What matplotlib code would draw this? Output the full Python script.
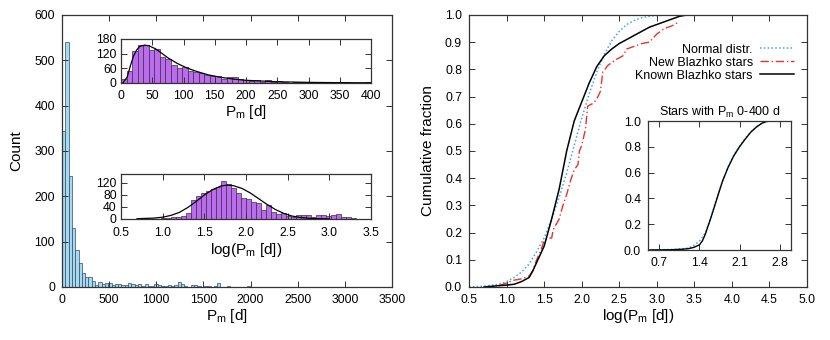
import numpy as np
import matplotlib
matplotlib.use("Agg")
import matplotlib.pyplot as plt

plt.rcParams['font.family'] = ['Liberation Sans', 'DejaVu Sans']
plt.rcParams['mathtext.fontset'] = 'custom'
plt.rcParams['mathtext.rm'] = 'Liberation Sans'
plt.rcParams['mathtext.it'] = 'Liberation Sans'

# --- data ---
# main histogram of P_m, bins of 35 d from 0 to 3500
pm_bin_width = 35
pm_counts = [345, 540, 245, 130, 82, 53, 30, 22, 21, 14,
             4, 12, 6, 8, 8, 5, 7, 6, 4, 5,
             8, 6, 4, 7, 3, 6, 2, 3, 7, 4,
             3, 3, 5, 2, 4, 11, 6, 2, 1, 4,
             5, 2, 1, 2, 3, 1, 2, 9, 0, 0,
             2, 1, 0, 1, 0, 0, 2, 1, 0, 0,
             1, 0, 0, 0, 0, 0, 0, 0, 0, 0,
             0, 0, 0, 0, 0, 0, 0, 0, 0, 0,
             0, 0, 0, 0, 0, 0, 0, 0, 0, 0,
             0, 0, 0, 0, 1, 0, 0, 0, 0, 0]

# inset: P_m 0-400 d
short_counts = [18, 50, 130, 155, 155, 135, 138, 108, 97, 74,
                60, 64, 49, 46, 42, 31, 29, 29, 15, 23,
                23, 16, 12, 10, 12, 5, 11, 4, 10, 4,
                2, 4, 4, 2, 5, 4, 5, 2, 2, 1,
                3, 2, 1, 2, 5]
short_fit_x = [3, 10, 15, 20, 25, 30, 38, 45, 55, 65, 75, 90, 105, 120,
               140, 160, 180, 200, 250, 300, 350, 400]
short_fit_y = [0, 25, 70, 110, 135, 150, 155, 152, 140, 122, 103, 80, 62, 48,
               33, 23, 16, 11, 5, 2.5, 1.3, 0.8]

# inset: log P_m, bins of 0.06 from 0.5 to 3.5
log_bin_width = 0.06
log_counts = [0, 0, 0, 3, 2, 0, 1, 1, 2, 3,
              5, 8, 10, 20, 62, 75, 88, 92, 100, 107,
              125, 115, 103, 85, 70, 68, 55, 52, 30, 47,
              22, 18, 20, 10, 8, 14, 12, 12, 8, 14,
              12, 10, 12, 16, 8, 8, 2, 0, 0, 0]
log_fit_x = [0.7, 0.9, 1.0, 1.1, 1.2, 1.3, 1.4, 1.5, 1.6, 1.7, 1.78, 1.85,
             1.95, 2.05, 2.15, 2.25, 2.35, 2.45, 2.55, 2.65, 2.8, 3.0]
log_fit_y = [1, 3, 6, 12, 22, 38, 58, 80, 98, 110, 113, 111,
             102, 87, 68, 49, 32, 19, 10, 5, 1.5, 0.3]

# cumulative distributions
normal_x = [0.5, 0.7, 0.9, 1.0, 1.1, 1.2, 1.3, 1.4, 1.5, 1.6, 1.7, 1.8, 1.9,
            2.0, 2.1, 2.2, 2.3, 2.4, 2.5, 2.6, 2.7, 2.8, 2.9, 3.0, 3.2, 3.5, 3.7]
normal_y = [0.0, 0.003, 0.01, 0.02, 0.035, 0.055, 0.085, 0.13, 0.18, 0.25, 0.33,
            0.42, 0.52, 0.62, 0.71, 0.79, 0.855, 0.905, 0.94, 0.965, 0.98, 0.99,
            0.995, 0.998, 1.0, 1.0, 1.0]
new_x = [0.9, 1.0, 1.1, 1.2, 1.3, 1.35, 1.4, 1.45, 1.5, 1.55, 1.6, 1.62, 1.7,
         1.75, 1.8, 1.85, 1.9, 1.95, 1.97, 2.0, 2.05, 2.08, 2.15, 2.2, 2.25,
         2.28, 2.35, 2.45, 2.55, 2.6, 2.7, 2.8, 2.9, 3.0, 3.1, 3.2, 3.3]
new_y = [0.005, 0.015, 0.025, 0.03, 0.04, 0.06, 0.1, 0.13, 0.17, 0.18, 0.18,
         0.21, 0.25, 0.3, 0.34, 0.39, 0.43, 0.45, 0.5, 0.52, 0.58, 0.665, 0.675,
         0.69, 0.72, 0.79, 0.815, 0.835, 0.85, 0.875, 0.885, 0.895, 0.9, 0.93,
         0.95, 0.96, 0.975]
known_x = [0.7, 0.9, 1.0, 1.1, 1.2, 1.3, 1.35, 1.4, 1.5, 1.6, 1.7, 1.8, 1.9,
           2.0, 2.1, 2.2, 2.3, 2.4, 2.5, 2.6, 2.7, 2.8, 2.9, 3.0, 3.1, 3.2,
           3.3, 3.4, 3.5]
known_y = [0.0, 0.005, 0.007, 0.01, 0.02, 0.035, 0.06, 0.09, 0.15, 0.25, 0.36,
           0.5, 0.61, 0.68, 0.75, 0.81, 0.85, 0.875, 0.895, 0.91, 0.925, 0.94,
           0.955, 0.965, 0.975, 0.985, 0.995, 1.0, 1.0]

# inset: stars with P_m 0-400 d
sub_known_x = [0.5, 0.9, 1.1, 1.2, 1.3, 1.35, 1.4, 1.45, 1.5, 1.6, 1.7, 1.8,
               1.9, 2.0, 2.1, 2.2, 2.3, 2.4, 2.5, 2.6, 2.7]
sub_known_y = [0.0, 0.002, 0.006, 0.01, 0.02, 0.03, 0.04, 0.07, 0.12, 0.25,
               0.39, 0.53, 0.64, 0.73, 0.80, 0.86, 0.915, 0.955, 0.985, 1.0, 1.0]
sub_normal_x = [0.5, 1.0, 1.2, 1.3, 1.4, 1.5, 1.6, 1.7, 1.8, 1.9, 2.0, 2.1,
                2.2, 2.3, 2.4, 2.5, 2.6, 2.7]
sub_normal_y = [0.0, 0.005, 0.015, 0.035, 0.07, 0.13, 0.25, 0.40, 0.53, 0.645,
                0.735, 0.805, 0.865, 0.915, 0.955, 0.985, 0.998, 1.0]

# --- styling helpers ---
tick_fs = 8.8
label_fs = 11
spine_col = '#333333'


def style(ax):
    ax.tick_params(direction='in', top=True, right=True, length=4,
                   width=0.7, labelsize=tick_fs, color=spine_col)
    ax.tick_params(axis='x', pad=5)
    ax.tick_params(axis='y', pad=5)
    for s in ax.spines.values():
        s.set_color(spine_col)
        s.set_linewidth(0.9)


fig = plt.figure(figsize=(8.3, 3.4), dpi=100)

# left main histogram
ax1 = fig.add_axes([0.0747, 0.1559, 0.3976, 0.80])
edges = np.arange(len(pm_counts)) * pm_bin_width
ax1.bar(edges, pm_counts, width=pm_bin_width, align='edge',
        color='#a8d8f0', edgecolor='#2d4e6a', linewidth=0.5)
ax1.set_xlim(0, 3500)
ax1.set_ylim(0, 600)
ax1.set_xticks(np.arange(0, 3501, 500))
ax1.set_yticks(np.arange(0, 601, 100))
ax1.set_xlabel(r'P$_\mathrm{m}$ [d]', fontsize=label_fs, labelpad=1)
ax1.set_ylabel('Count', fontsize=label_fs, labelpad=8)
style(ax1)

# top inset
ax2 = fig.add_axes([0.1458, 0.7559, 0.3012, 0.1294])
edges2 = np.arange(len(short_counts)) * (400 / len(short_counts))
ax2.bar(edges2, short_counts, width=400 / len(short_counts), align='edge',
        color='#bb6cec', edgecolor='#3d2a4a', linewidth=0.5)
ax2.plot(short_fit_x, short_fit_y, color='black', lw=0.9)
ax2.set_xlim(0, 400)
ax2.set_ylim(0, 180)
ax2.set_xticks(np.arange(0, 401, 50))
ax2.set_yticks([0, 60, 120, 180])
ax2.set_xlabel(r'P$_\mathrm{m}$ [d]', fontsize=label_fs, labelpad=1)
style(ax2)
ax2.tick_params(axis='y', pad=3)

# bottom inset
ax3 = fig.add_axes([0.1458, 0.3559, 0.3012, 0.1324])
edges3 = 0.5 + np.arange(len(log_counts)) * log_bin_width
ax3.bar(edges3, log_counts, width=log_bin_width, align='edge',
        color='#bb6cec', edgecolor='#3d2a4a', linewidth=0.5)
ax3.plot(log_fit_x, log_fit_y, color='black', lw=0.9)
ax3.set_xlim(0.5, 3.5)
ax3.set_ylim(0, 150)
ax3.set_xticks(np.arange(0.5, 3.51, 0.5))
ax3.set_xticklabels(['%.1f' % v for v in np.arange(0.5, 3.51, 0.5)])
ax3.set_yticks([0, 40, 80, 120])
ax3.set_xlabel(r'log(P$_\mathrm{m}$ [d])', fontsize=label_fs, labelpad=1)
style(ax3)
ax3.tick_params(axis='y', pad=3)
ax3.tick_params(axis='x', pad=6)

# right main: cumulative
ax4 = fig.add_axes([0.5651, 0.1559, 0.4072, 0.80])
ax4.plot(normal_x, normal_y, color='#3aa8e8', lw=1.1, ls=(0, (1, 1.5)),
         label='Normal distr.')
ax4.plot(new_x, new_y, color='#e8322a', lw=1.0, ls=(0, (6, 2, 1, 2)),
         label='New Blazhko stars')
ax4.plot(known_x, known_y, color='black', lw=1.1, label='Known Blazhko stars')
ax4.set_xlim(0.5, 5.0)
ax4.set_ylim(0, 1.0)
ax4.set_xticks(np.arange(0.5, 5.01, 0.5))
ax4.set_xticklabels(['%.1f' % v for v in np.arange(0.5, 5.01, 0.5)])
ax4.set_yticks(np.arange(0, 1.01, 0.1))
ax4.set_yticklabels(['%.1f' % v for v in np.arange(0, 1.01, 0.1)])
ax4.set_xlabel(r'log(P$_\mathrm{m}$ [d])', fontsize=label_fs, labelpad=1)
ax4.set_ylabel('Cumulative fraction', fontsize=label_fs, labelpad=7)
style(ax4)
ax4.legend(loc='upper right', bbox_to_anchor=(0.962, 0.895), frameon=False,
           markerfirst=False, fontsize=9, handlelength=2.7, handletextpad=0.6,
           borderpad=0, borderaxespad=0, labelspacing=0.08)

# right inset
ax5 = fig.add_axes([0.7807, 0.2647, 0.1723, 0.3794])
ax5.plot(sub_normal_x, sub_normal_y, color='#3aa8e8', lw=1.1, ls=(0, (1, 1.5)))
ax5.plot(sub_known_x, sub_known_y, color='black', lw=1.0)
ax5.set_xlim(0.5, 3.0)
ax5.set_ylim(0, 1.0)
ax5.set_xticks([0.7, 1.4, 2.1, 2.8])
ax5.set_yticks(np.arange(0, 1.01, 0.2))
ax5.set_yticklabels(['%.1f' % v for v in np.arange(0, 1.01, 0.2)])
ax5.set_title(r'Stars with P$_\mathrm{m}$ 0-400 d', fontsize=9, pad=4)
style(ax5)

fig.savefig('out.png', dpi=100)
